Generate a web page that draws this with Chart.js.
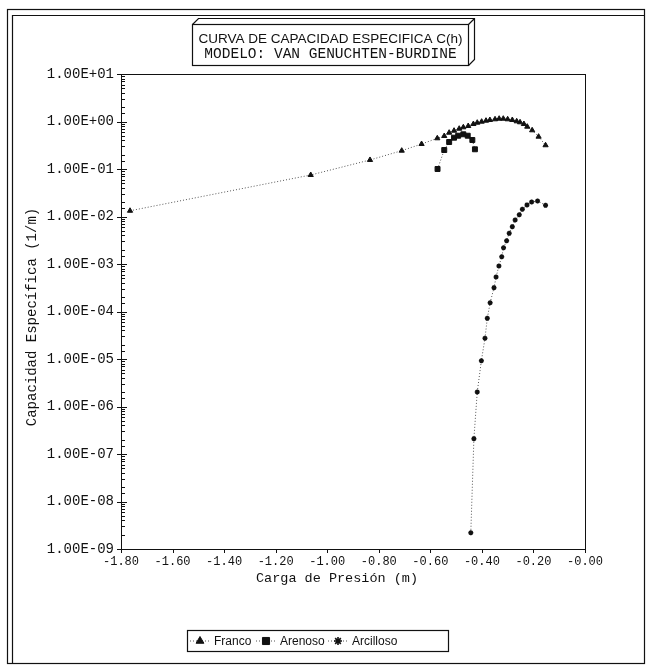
<!DOCTYPE html>
<html>
<head>
<meta charset="utf-8">
<title>Curva de capacidad especifica</title>
<script src="https://cdn.jsdelivr.net/npm/chart.js@4.4.0/dist/chart.umd.min.js"></script>
<style>
  html, body { margin: 0; padding: 0; background: #fff; }
</style>
</head>
<body>
<canvas id="grafico" width="648" height="667"></canvas>
<script>
// valores: x = carga de presion (m), y = C(h) (1/m)
const francoX = [-1.765, -1.064, -0.834, -0.711, -0.634, -0.573, -0.546, -0.527, -0.508, -0.488,
  -0.472, -0.453, -0.433, -0.418, -0.401, -0.384, -0.369, -0.349, -0.333, -0.317,
  -0.300, -0.282, -0.265, -0.252, -0.237, -0.224, -0.205, -0.180, -0.153];
const francoY = [0.0132, 0.0748, 0.155, 0.243, 0.336, 0.443, 0.495, 0.581, 0.640, 0.705,
  0.755, 0.804, 0.885, 0.944, 0.991, 1.040, 1.076, 1.112, 1.146, 1.146,
  1.112, 1.076, 1.009, 0.962, 0.885, 0.778, 0.653, 0.479, 0.316];

const arenosoX = [-0.572, -0.546, -0.527, -0.508, -0.492, -0.472, -0.455, -0.437, -0.427];
const arenosoY = [0.100, 0.251, 0.370, 0.456, 0.502, 0.538, 0.502, 0.408, 0.260];

const arcillosoX = [-0.443, -0.431, -0.418, -0.402, -0.388, -0.379, -0.368, -0.353, -0.345, -0.334,
  -0.323, -0.316, -0.304, -0.294, -0.282, -0.271, -0.255, -0.243, -0.225, -0.207, -0.184, -0.153];
const arcillosoY = [2.2e-9, 2.1e-7, 2.02e-6, 9.2e-6, 2.73e-5, 7.19e-5, 1.53e-4, 3.17e-4, 5.33e-4, 9.08e-4,
  1.42e-3, 2.2e-3, 3.09e-3, 4.43e-3, 6.1e-3, 8.44e-3, 1.09e-2, 1.42e-2, 1.75e-2, 2.02e-2, 2.12e-2, 1.72e-2];

const serieNombres = ['Franco', 'Arenoso', 'Arcilloso'];
const titulo = ['CURVA DE CAPACIDAD ESPECIFICA C(h)', 'MODELO: VAN GENUCHTEN-BURDINE'];
const tituloX = 'Carga de Presión (m)';
const tituloY = 'Capacidad Específica (1/m)';
const xMin = -1.8, xMax = 0, xPaso = 0.2;
const yMin = 1e-9, yMax = 10;

function puntos(xs, ys) {
  return xs.map((x, i) => ({ x: x, y: ys[i] }));
}

function esPotencia10(v) {
  const l = Math.log10(v);
  return Math.abs(l - Math.round(l)) < 1e-6;
}

// formato tipo 1.00E-03
function formatoExp(v) {
  const e = Math.round(Math.log10(v));
  return '1.00E' + (e < 0 ? '-' : '+') + String(Math.abs(e)).padStart(2, '0');
}

const mono = 'Liberation Mono, Courier New, monospace';
const sans = 'Liberation Sans, Arial, sans-serif';

function serie(label, xs, ys, estilo, radio) {
  return {
    label: label,
    data: puntos(xs, ys),
    showLine: true,
    borderColor: '#555',
    borderWidth: 1,
    borderDash: [1, 2],
    pointStyle: estilo,
    pointRadius: radio,
    pointBackgroundColor: '#111',
    pointBorderColor: '#111',
    pointBorderWidth: estilo === 'star' ? 1.6 : 1
  };
}

// marco, titulo, ticks hacia adentro, titulos de ejes y leyenda
const marco = {
  id: 'marco',
  afterDraw(chart) {
    const ctx = chart.ctx;
    const area = chart.chartArea;
    const sx = chart.scales.x, sy = chart.scales.y;
    ctx.save();
    ctx.strokeStyle = '#111';
    ctx.lineWidth = 1.2;

    // marco exterior doble
    ctx.strokeRect(7.5, 9.5, 637, 654);
    ctx.beginPath();
    ctx.moveTo(12.5, 663); ctx.lineTo(12.5, 15.5); ctx.lineTo(644, 15.5);
    ctx.stroke();

    // caja del grafico
    ctx.lineWidth = 1;
    ctx.strokeRect(area.left + 0.5, area.top + 0.5, area.right - area.left, area.bottom - area.top);

    // ticks del eje y (hacia adentro)
    ctx.beginPath();
    sy.ticks.forEach(t => {
      const py = Math.round(sy.getPixelForValue(t.value)) + 0.5;
      if (esPotencia10(t.value)) {
        ctx.moveTo(area.left - 4, py); ctx.lineTo(area.left + 6, py);
      } else {
        ctx.moveTo(area.left, py); ctx.lineTo(area.left + 4, py);
      }
    });
    // ticks del eje x
    sx.ticks.forEach(t => {
      const px = Math.round(sx.getPixelForValue(t.value)) + 0.5;
      ctx.moveTo(px, area.bottom); ctx.lineTo(px, area.bottom + 4);
    });
    ctx.stroke();

    // caja del titulo con efecto 3D
    const bx = 192.5, by = 24.5, bw = 276, bh = 41, d = 6;
    ctx.lineWidth = 1.2;
    ctx.fillStyle = '#fff';
    ctx.fillRect(bx, by, bw, bh);
    ctx.strokeRect(bx, by, bw, bh);
    ctx.beginPath();
    ctx.moveTo(bx, by); ctx.lineTo(bx + d, by - d); ctx.lineTo(bx + bw + d, by - d);
    ctx.lineTo(bx + bw + d, by + bh - d); ctx.lineTo(bx + bw, by + bh);
    ctx.moveTo(bx + bw, by); ctx.lineTo(bx + bw + d, by - d);
    ctx.stroke();

    ctx.fillStyle = '#111';
    ctx.textAlign = 'center';
    ctx.textBaseline = 'middle';
    ctx.font = '13.5px ' + sans;
    ctx.fillText(titulo[0], bx + bw / 2, 39);
    ctx.font = '14.5px ' + mono;
    ctx.fillText(titulo[1], bx + bw / 2, 54);

    // titulos de ejes
    ctx.font = '13.5px ' + mono;
    ctx.fillText(tituloX, 337, 578);
    ctx.save();
    ctx.translate(32, 317);
    ctx.rotate(-Math.PI / 2);
    ctx.font = '14px ' + mono;
    ctx.fillText(tituloY, 0, 0);
    ctx.restore();

    // leyenda
    const lx = 187.5, ly = 630.5, lw = 261, lh = 21;
    ctx.strokeRect(lx, ly, lw, lh);
    const posMarca = [200, 266, 338];
    ctx.font = '12px ' + sans;
    ctx.textAlign = 'left';
    chart.data.datasets.forEach((ds, i) => {
      const mx = posMarca[i], my = ly + lh / 2;
      ctx.save();
      ctx.strokeStyle = '#555';
      ctx.setLineDash([1, 2]);
      ctx.beginPath();
      ctx.moveTo(mx - 10, my); ctx.lineTo(mx + 10, my);
      ctx.stroke();
      ctx.restore();
      ctx.fillStyle = '#111';
      ctx.strokeStyle = '#111';
      ctx.lineWidth = ds.pointBorderWidth;
      Chart.helpers.drawPoint(ctx, { pointStyle: ds.pointStyle, radius: ds.pointRadius + 1.5, borderWidth: ds.pointBorderWidth }, mx, my);
      ctx.fillStyle = '#111';
      ctx.fillText(ds.label, mx + 14, my + 1);
    });
    ctx.restore();
  }
};

const chart = new Chart(document.getElementById('grafico'), {
  type: 'scatter',
  data: {
    datasets: [
      serie(serieNombres[0], francoX, francoY, 'triangle', 3),
      serie(serieNombres[1], arenosoX, arenosoY, 'rect', 3.5),
      serie(serieNombres[2], arcillosoX, arcillosoY, 'star', 2.5)
    ]
  },
  options: {
    responsive: false,
    animation: false,
    devicePixelRatio: 1,
    layout: { padding: { top: 74, right: 63, left: 0, bottom: 0 } },
    plugins: {
      legend: { display: false },
      tooltip: { enabled: false }
    },
    scales: {
      x: {
        type: 'linear',
        min: xMin,
        max: xMax,
        afterFit: s => { s.height = 118; },
        grid: { display: false, drawTicks: false },
        border: { display: true, color: '#111', width: 1 },
        ticks: {
          stepSize: xPaso,
          autoSkip: false,
          maxRotation: 0,
          padding: 6,
          color: '#111',
          font: { family: mono, size: 12 },
          callback: v => (Math.abs(v) < 1e-9 ? '-0.00' : Number(v).toFixed(2))
        }
      },
      y: {
        type: 'logarithmic',
        min: yMin,
        max: yMax,
        afterFit: s => { s.width = 121; },
        grid: { display: false, drawTicks: false },
        border: { display: true, color: '#111', width: 1 },
        ticks: {
          autoSkip: false,
          padding: 7,
          color: '#111',
          font: { family: mono, size: 14 },
          callback: v => (esPotencia10(v) ? formatoExp(v) : '')
        }
      }
    }
  },
  plugins: [marco]
});
</script>
</body>
</html>
